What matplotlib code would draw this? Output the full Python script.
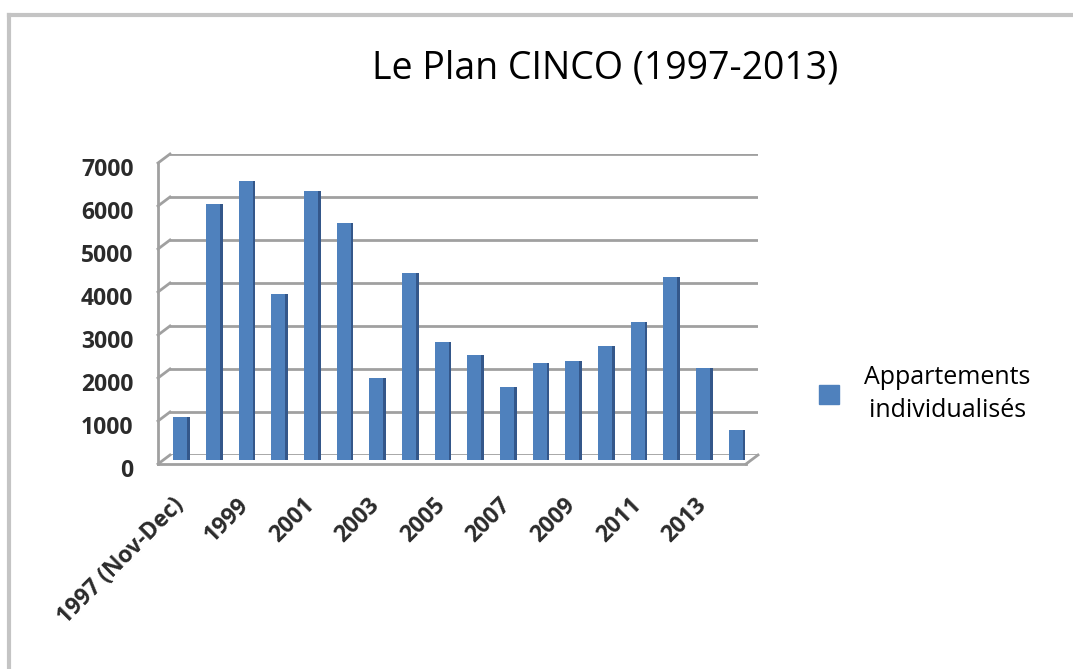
import matplotlib
matplotlib.use("Agg")
import matplotlib.pyplot as plt
from matplotlib.lines import Line2D
from matplotlib.patches import Rectangle
from matplotlib.transforms import ScaledTranslation
import numpy as np

categories = ['1997 (Nov-Dec)', '1998', '1999', '2000', '2001', '2002', '2003', '2004',
              '2005', '2006', '2007', '2008', '2009', '2010', '2011', '2012', '2013', '2014']
values = [1000, 5950, 6500, 3850, 6250, 5500, 1900, 4350,
          2750, 2450, 1700, 2250, 2300, 2650, 3200, 4250, 2150, 700]
series_name = 'Appartements\nindividualisés'
title = 'Le Plan CINCO (1997-2013)'
yticks = [0, 1000, 2000, 3000, 4000, 5000, 6000, 7000]

W, H, DPI = 1073, 669, 100
fig = plt.figure(figsize=(W / DPI, H / DPI), dpi=DPI)
fig.patch.set_facecolor('white')

BLUE = '#4F81BD'
SIDE = '#34578A'
GRID = '#a0a0a0'
TXT = '#2b2b2b'

def fx(px):
    return px / W

def fy(py):
    return 1 - py / H

# mid plane (bars), back plane (wall)
bar_l, bar_r, bar_b, bar_t = 164, 752, 460, 159
ax_wall = fig.add_axes([fx(170), fy(455), fx(758) - fx(170), fy(154) - fy(455)])
ax = fig.add_axes([fx(bar_l), fy(bar_b), fx(bar_r) - fx(bar_l), fy(bar_t) - fy(bar_b)])

n = len(categories)
x = np.arange(n)
for a in (ax_wall, ax):
    a.set_xlim(-0.5, n - 0.5)
    a.set_ylim(0, 7000)
    for s in a.spines.values():
        s.set_visible(False)
    a.patch.set_alpha(0)

# back wall gridlines
ax_wall.set_yticks(yticks)
ax_wall.set_xticks([])
ax_wall.tick_params(left=False, labelleft=False)
ax_wall.grid(axis='y', color=GRID, lw=2)
ax_wall.set_axisbelow(True)

# left wall & floor lines computed from the wall axes
dx, dy = -12, -9
lines = []
for v in yticks:
    bx, by = ax_wall.transData.transform((-0.5, v))
    lines.append(([bx, bx + dx], [by, by + dy]))
tx, ty = ax_wall.transData.transform((-0.5, 7000))
bx0, by0 = ax_wall.transData.transform((-0.5, 0))
rx0, ry0 = ax_wall.transData.transform((n - 0.5, 0))
lines.append(([tx + dx, bx0 + dx], [ty + dy, by0 + dy]))
lines.append(([bx0 + dx, rx0 + dx], [by0 + dy, ry0 + dy]))
lines.append(([rx0, rx0 + dx], [ry0, ry0 + dy]))
for xs, ys in lines:
    fig.add_artist(Line2D(xs, ys, color=GRID, lw=2, transform=None, zorder=0.5))

# bars
ax.bar(x, values, width=0.42, color=BLUE, zorder=3)
ax.bar(x + 0.21, values, width=0.09, align='edge', color=SIDE, zorder=3)

ax.set_xticks(x[::2])
ax.set_xticklabels(categories[::2], rotation=45, ha='right', va='center',
                   rotation_mode='anchor', fontsize=16.5, fontfamily='Open Sans',
                   fontweight='bold', color=TXT)
ax.tick_params(axis='x', length=0, pad=30)
ax.set_yticks(yticks)
ax.set_yticklabels([str(v) for v in yticks], fontsize=16.5, fontfamily='Open Sans',
                   fontweight='bold', color=TXT)
ax.tick_params(axis='y', length=0, pad=22)
off = ScaledTranslation(0, -8 / DPI, fig.dpi_scale_trans)
for lab in ax.get_yticklabels():
    lab.set_transform(lab.get_transform() + off)

fig.text(fx(605), fy(68), title, ha='center', va='center', fontsize=27,
         fontfamily='Open Sans', color='black')

leg = ax.legend([Rectangle((0, 0), 1, 1, color=BLUE)], [series_name],
                loc='center', bbox_to_anchor=(fx(925), fy(394)),
                bbox_transform=fig.transFigure, frameon=False,
                prop={'family': 'Open Sans', 'size': 18},
                handlelength=0.8, handleheight=0.8, handletextpad=1.0)
for t in leg.get_texts():
    t.set_multialignment('center')
    t.set_linespacing(1.45)

# outer frame
fig.add_artist(Line2D([9, 9], [0, H - 15], color='#c4c4c4', lw=3, transform=None))
fig.add_artist(Line2D([9, W], [H - 15, H - 15], color='#c4c4c4', lw=3, transform=None))

fig.savefig('out.png', dpi=DPI)
